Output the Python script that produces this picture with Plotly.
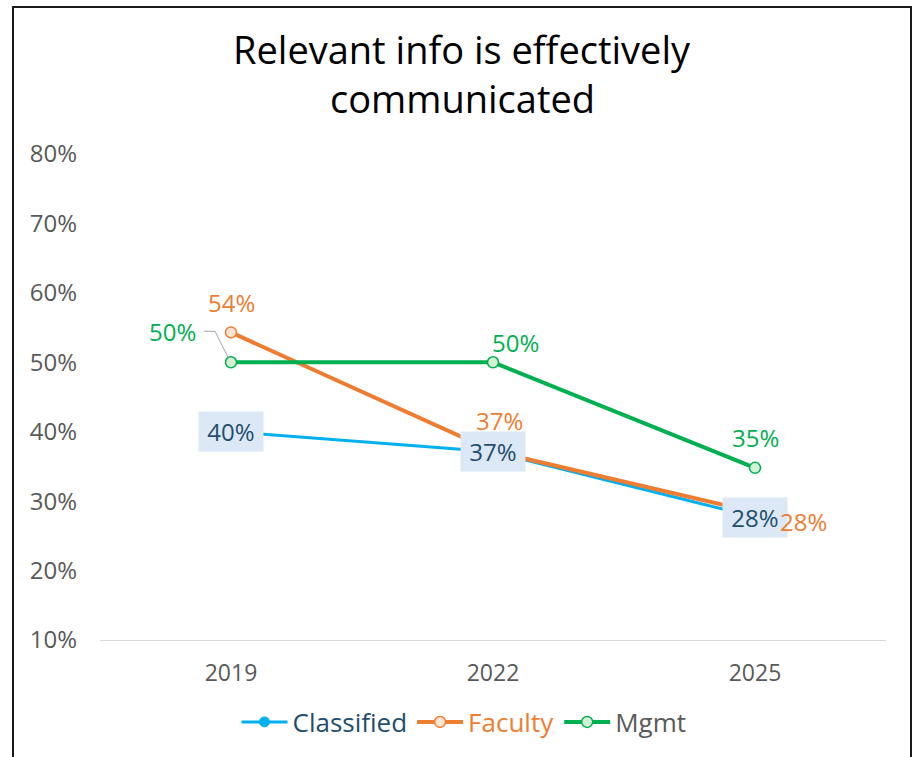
import plotly.graph_objects as go

years = ["2019", "2022", "2025"]
classified = [40.0, 37.1, 27.7]
faculty = [54.3, 37.2, 28.4]
mgmt = [50.0, 50.0, 34.8]
y_ticks = [10, 20, 30, 40, 50, 60, 70, 80]
y_tick_labels = [f"{v}%" for v in y_ticks]

FONT = "Open Sans"
C_BLUE = "#00B0F0"
C_ORANGE = "#ED7D31"
C_GREEN = "#00B050"
C_BLUE_TXT = "#1F4E6E"
C_GRAY = "#595959"

W, H = 915, 757
ML, MR, MT, MB = 100, 29, 154, 117
PW, PH = W - ML - MR, H - MT - MB

xs = list(range(len(years)))

fig = go.Figure()
fig.add_trace(go.Scatter(
    x=xs, y=classified, mode="lines+markers",
    name=f"<span style='color:{C_BLUE_TXT}'>Classified</span>",
    line=dict(color=C_BLUE, width=3),
    marker=dict(symbol="circle", size=10, color=C_BLUE, line=dict(color=C_BLUE, width=1)),
))
fig.add_trace(go.Scatter(
    x=xs, y=faculty, mode="lines+markers",
    name=f"<span style='color:{C_ORANGE}'>Faculty</span>",
    line=dict(color=C_ORANGE, width=4),
    marker=dict(symbol="circle", size=11, color="#FBE3D6", line=dict(color=C_ORANGE, width=1.5)),
))
fig.add_trace(go.Scatter(
    x=xs, y=mgmt, mode="lines+markers",
    name=f"<span style='color:{C_GRAY}'>Mgmt</span>",
    line=dict(color=C_GREEN, width=4),
    marker=dict(symbol="circle", size=11, color="#D5F0D5", line=dict(color=C_GREEN, width=1.5)),
))

annotations = []
LBL = 24

def label(x, y, color, dx, dy, box=False):
    a = dict(x=x, y=y, xref="x", yref="y", text=f"{round(y):.0f}%", showarrow=False,
             font=dict(family=FONT, size=LBL, color=color), xshift=dx, yshift=dy)
    if box:
        a.update(bgcolor="#DCE8F5", width=64, height=39, borderpad=0)
    annotations.append(a)

# Classified labels (boxed, centered on point)
for i, v in enumerate(classified):
    label(xs[i], v, C_BLUE_TXT, 0, 0, box=True)
# Faculty labels
fac_off = [(0, 30), (6, 31), (48, -9)]
for i, v in enumerate(faculty):
    label(xs[i], v, C_ORANGE, *fac_off[i])
# Mgmt labels
mg_off = [(-59, 31), (22, 20), (0, 30)]
for i, v in enumerate(mgmt):
    label(xs[i], v, C_GREEN, *mg_off[i])

# Title
annotations.append(dict(x=(462 - ML) / PW, y=(H - MB - 49) / PH, xref="paper", yref="paper",
                        text="Relevant info is effectively", showarrow=False,
                        font=dict(family=FONT, size=38, color="#000000"), xanchor="center", yanchor="middle"))
annotations.append(dict(x=(462 - ML) / PW, y=(H - MB - 98) / PH, xref="paper", yref="paper",
                        text="communicated", showarrow=False,
                        font=dict(family=FONT, size=38, color="#000000"), xanchor="center", yanchor="middle"))

shapes = []
def leader(xi, yv, pts):
    for (x0, y0), (x1, y1) in zip(pts[:-1], pts[1:]):
        shapes.append(dict(type="line", xref="x", yref="y", xsizemode="pixel", ysizemode="pixel",
                           xanchor=xi, yanchor=yv, x0=x0, y0=y0, x1=x1, y1=y1,
                           line=dict(color="#A6A6A6", width=1)))

leader(xs[0], mgmt[0], [(-27, 31), (-16, 31), (-3, 5)])
leader(xs[1], faculty[1], [(7, 13), (3, 2)])
leader(xs[2], faculty[2], [(3, -3), (12, -10)])

# chart frame
shapes.append(dict(type="rect", xref="paper", yref="paper",
                   x0=(13 - ML) / PW, x1=(911 - ML) / PW,
                   y0=(H - MB - 780) / PH, y1=(H - MB - 7) / PH,
                   line=dict(color="#1a1a1a", width=2), fillcolor="rgba(0,0,0,0)", layer="above"))

fig.update_layout(
    width=W, height=H,
    margin=dict(l=ML, r=MR, t=MT, b=MB),
    paper_bgcolor="white", plot_bgcolor="white",
    font=dict(family=FONT, color=C_GRAY),
    showlegend=True,
    legend=dict(orientation="h", x=(464 - ML) / PW, xanchor="center",
                y=(H - MB - 722) / PH, yanchor="middle",
                font=dict(family=FONT, size=26), itemwidth=46, tracegroupgap=0),
    annotations=annotations,
    shapes=shapes,
    xaxis=dict(range=[-0.5, len(years) - 0.5], tickvals=xs, ticktext=years,
               showgrid=False, zeroline=False, showline=True, linecolor="#D9D9D9", linewidth=1,
               tickfont=dict(family=FONT, size=23, color=C_GRAY), ticks="", ticklabelstandoff=12),
    yaxis=dict(range=[10, 80], tickvals=y_ticks, ticktext=y_tick_labels,
               showgrid=False, zeroline=False, showline=False,
               tickfont=dict(family=FONT, size=24, color=C_GRAY), ticks="", ticklabelstandoff=22),
)

fig.write_html("out.html", config={"displayModeBar": False},
               post_script="document.body.style.margin='0';document.body.style.padding='0';")
